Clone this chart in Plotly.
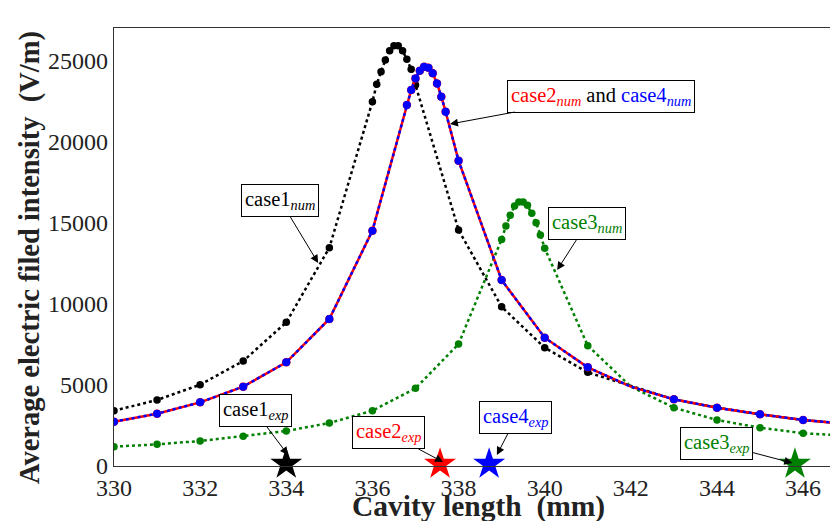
import plotly.graph_objects as go

# ---------------- data ----------------
x_case1 = [330, 331, 332, 333, 334, 335, 336, 336.1, 336.2, 336.3, 336.4, 336.5, 336.6,
           336.7, 336.8, 336.9, 337.0, 338, 339, 340, 341, 342, 343, 344, 345, 346, 347]
y_case1 = [3414, 4074, 5020, 6482, 8870, 13476, 22490, 23560, 24340, 25060, 25640, 25950, 25950,
           25640, 25110, 24490, 23520, 14570, 9830, 7300, 5780, 4950, 4115, 3600, 3190, 2840, 2600]

x_case24 = [330, 331, 332, 333, 334, 335, 336, 336.8, 336.9, 337.0, 337.1, 337.2, 337.3,
            337.4, 337.5, 337.6, 337.7, 338, 339, 340, 341, 342, 343, 344, 345, 346, 347]
y_case24 = [2735, 3230, 3930, 4900, 6400, 9075, 14530, 22290, 23210, 23930, 24400, 24650, 24590,
            24240, 23620, 22800, 21870, 18850, 11480, 7920, 6090, 4900, 4115, 3600, 3190, 2840, 2600]

x_case3 = [330, 331, 332, 333, 334, 335, 336, 337, 338, 339.0, 339.1, 339.2, 339.3, 339.4,
           339.5, 339.6, 339.7, 339.8, 339.9, 340.0, 341, 342, 343, 344, 345, 346, 347]
y_case3 = [1193, 1337, 1543, 1831, 2160, 2654, 3414, 4794, 7530, 13990, 14815, 15475, 16050, 16300,
           16300, 16090, 15600, 15020, 14260, 13440, 7430, 4900, 3600, 2840, 2365, 2020, 1870]

# experimental resonance positions
exp_names = ["case1", "case2", "case4", "case3"]
exp_x = [334.0, 337.57, 338.71, 345.81]
exp_y = [120, 120, 120, 120]
exp_colors = ["black", "red", "blue", "green"]

x_ticks = [330, 332, 334, 336, 338, 340, 342, 344, 346]
y_ticks = [0, 5000, 10000, 15000, 20000, 25000]

xlabel = "Cavity length&nbsp;&nbsp;(mm)"
ylabel = "Average electric filed intensity&nbsp;&nbsp;(V/m)"

SERIF = "Liberation Serif"


def msizes(xs, s):
    return [0 if x == 342 else s for x in xs]


fig = go.Figure()

fig.add_trace(go.Scatter(x=x_case1, y=y_case1, mode="lines+markers",
                         line=dict(color="black", width=2.5, dash="dot"),
                         marker=dict(color="black", size=msizes(x_case1, 7.5), opacity=1,
                                     line=dict(width=0)),
                         showlegend=False))
fig.add_trace(go.Scatter(x=x_case3, y=y_case3, mode="lines+markers",
                         line=dict(color="green", width=2.5, dash="dot"),
                         marker=dict(color="green", size=msizes(x_case3, 7.5), opacity=1,
                                     line=dict(width=0)),
                         showlegend=False))
fig.add_trace(go.Scatter(x=x_case24, y=y_case24, mode="lines+markers",
                         line=dict(color="red", width=2.5),
                         marker=dict(color="red", size=msizes(x_case24, 8.5), opacity=1,
                                     line=dict(width=0)),
                         showlegend=False))
fig.add_trace(go.Scatter(x=x_case24, y=y_case24, mode="lines+markers",
                         line=dict(color="blue", width=2.5, dash="dot"),
                         marker=dict(color="blue", size=msizes(x_case24, 8), opacity=1,
                                     line=dict(width=0)),
                         showlegend=False))

for xe, ye, c in zip(exp_x, exp_y, exp_colors):
    fig.add_trace(go.Scatter(x=[xe], y=[ye], mode="markers",
                             marker=dict(symbol="star", size=24, color=c,
                                         line=dict(width=0)),
                             showlegend=False, cliponaxis=False))


def box(text, x, y, ax, ay, color="black"):
    fig.add_annotation(x=x, y=y, ax=ax, ay=ay, text=text, showarrow=True,
                       arrowhead=2, arrowsize=1.6, arrowwidth=1, arrowcolor="black",
                       font=dict(family=SERIF, size=20.5, color=color),
                       bordercolor="black", borderwidth=1, borderpad=3, bgcolor="white")


box("case1<sub><i>num</i></sub>", 334.74, 12530, -38, -63)
box("<span style='color:red'>case2<sub><i>num</i></sub></span> and "
    "<span style='color:blue'>case4<sub><i>num</i></sub></span>", 337.80, 21110, 151, -28)
box("case3<sub><i>num</i></sub>", 340.29, 12100, 30, -47, color="green")
box("case1<sub><i>exp</i></sub>", 334.04, 680, -33, -44)
box("case2<sub><i>exp</i></sub>", 337.64, 250, -55, -29, color="red")
box("case4<sub><i>exp</i></sub>", 338.89, 680, 19, -37, color="blue")
box("case3<sub><i>exp</i></sub>", 345.75, 185, -76, -20, color="green")

# axis titles
fig.add_annotation(xref="paper", yref="paper", x=(478 - 114) / 724, y=0, yshift=-40,
                   text="<b>" + xlabel + "</b>", showarrow=False,
                   font=dict(family=SERIF, size=29.5, color="#222"),
                   xanchor="center", yanchor="middle")
fig.add_annotation(xref="paper", yref="paper", x=0, xshift=-84, y=(466 - 258) / 438,
                   text="<b>" + ylabel + "</b>", showarrow=False, textangle=-90,
                   font=dict(family=SERIF, size=28.5, color="#222"),
                   xanchor="center", yanchor="middle")

# the page has an 8px body margin, so the figure is sized/offset to compensate
fig.update_layout(
    width=830, height=513,
    margin=dict(l=106, r=0, t=20, b=55),
    plot_bgcolor="white", paper_bgcolor="white",
    font=dict(family=SERIF, color="#222"),
    xaxis=dict(range=[330, 346.81], tickvals=x_ticks, ticktext=[str(v) for v in x_ticks],
               showgrid=False, zeroline=False, showline=True, mirror=True, automargin=False,
               linecolor="#333", linewidth=1.3, ticks="",
               tickfont=dict(family=SERIF, size=24, color="#222")),
    yaxis=dict(range=[0, 27040], tickvals=y_ticks, ticktext=[str(v) for v in y_ticks],
               showgrid=False, zeroline=False, showline=True, mirror=False, automargin=False,
               linecolor="#333", linewidth=1.3, ticks="",
               tickfont=dict(family=SERIF, size=24, color="#222")),
)

fig.write_html("out.html")
